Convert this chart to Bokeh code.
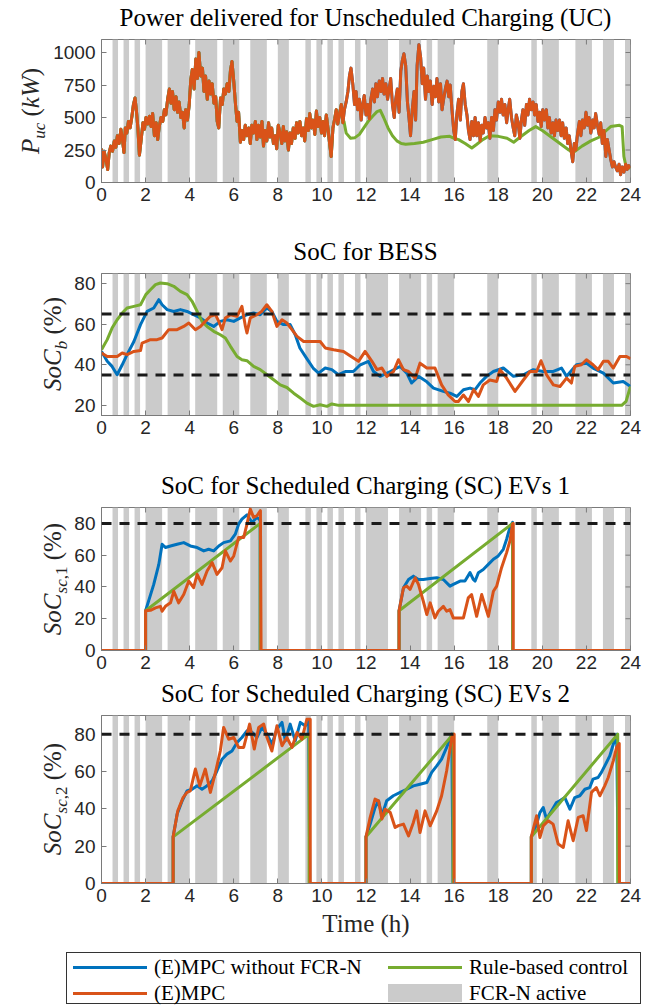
from bokeh.plotting import figure
from bokeh.models import Range1d, FixedTicker, Span, Div
from bokeh.layouts import column, row
from bokeh.embed import file_html
from bokeh.resources import INLINE

# ---------------- data ----------------
hours_ticks = list(range(0, 25, 2))

fcr_start = [0.5, 1.0, 1.5, 2.0, 3.0, 4.25, 5.5, 6.75, 8.0, 9.25, 9.75, 10.25, 10.75, 11.5,
             12.0, 13.5, 14.75, 15.25, 17.5, 19.5, 20.0, 21.5, 22.75, 23.75]
fcr_end = [0.75, 1.25, 1.75, 2.75, 4.0, 5.25, 6.25, 7.5, 8.5, 9.5, 10.0, 10.5, 11.0, 11.75,
           13.0, 14.5, 15.0, 16.0, 18.0, 19.75, 20.75, 22.25, 23.25, 24.0]

# Power delivered for unscheduled charging (kW), (E)MPC
uc_mpc = [
    (0.00, 260), (0.05, 120), (0.12, 240), (0.20, 180), (0.28, 100), (0.35, 230), (0.42, 280),
    (0.50, 240), (0.58, 320), (0.65, 270), (0.72, 360), (0.80, 300), (0.88, 410), (0.95, 330),
    (1.02, 230), (1.08, 420), (1.15, 380), (1.22, 470), (1.30, 420), (1.38, 510), (1.45, 600),
    (1.52, 650), (1.58, 560), (1.65, 420), (1.72, 210), (1.80, 330), (1.88, 460), (1.95, 410),
    (2.02, 500), (2.10, 450), (2.18, 510), (2.25, 430), (2.32, 530), (2.40, 360), (2.48, 460),
    (2.55, 330), (2.62, 430), (2.70, 500), (2.78, 470), (2.85, 560), (2.92, 520), (3.00, 640),
    (3.08, 720), (3.15, 610), (3.22, 700), (3.30, 560), (3.38, 660), (3.45, 540), (3.52, 620),
    (3.60, 500), (3.68, 540), (3.75, 420), (3.82, 560), (3.90, 480), (3.98, 600), (4.05, 790),
    (4.12, 870), (4.20, 720), (4.28, 950), (4.35, 800), (4.42, 1000), (4.50, 820), (4.58, 880),
    (4.65, 700), (4.72, 820), (4.80, 640), (4.88, 780), (4.95, 680), (5.02, 760), (5.10, 610),
    (5.18, 660), (5.25, 470), (5.32, 420), (5.40, 650), (5.48, 600), (5.55, 720), (5.62, 680),
    (5.70, 760), (5.78, 700), (5.85, 860), (5.92, 930), (6.00, 780), (6.08, 600), (6.15, 470),
    (6.22, 540), (6.30, 310), (6.38, 400), (6.45, 330), (6.52, 440), (6.60, 360), (6.68, 420),
    (6.75, 300), (6.82, 440), (6.90, 380), (6.98, 470), (7.05, 330), (7.12, 440), (7.20, 350),
    (7.28, 470), (7.35, 280), (7.42, 400), (7.50, 320), (7.58, 460), (7.65, 350), (7.72, 420),
    (7.80, 300), (7.88, 360), (7.95, 260), (8.02, 440), (8.10, 380), (8.18, 300), (8.25, 430),
    (8.32, 320), (8.40, 390), (8.48, 250), (8.55, 380), (8.62, 300), (8.70, 420), (8.78, 340),
    (8.85, 460), (8.92, 380), (9.00, 470), (9.08, 360), (9.15, 420), (9.22, 320), (9.30, 490),
    (9.38, 400), (9.45, 530), (9.52, 420), (9.60, 480), (9.68, 370), (9.75, 550), (9.82, 430),
    (9.90, 500), (9.98, 380), (10.05, 470), (10.12, 360), (10.20, 520), (10.28, 410),
    (10.35, 300), (10.42, 200), (10.50, 420), (10.58, 490), (10.65, 560), (10.72, 450),
    (10.80, 530), (10.88, 600), (10.95, 460), (11.02, 560), (11.10, 620), (11.18, 700),
    (11.25, 820), (11.32, 880), (11.40, 760), (11.48, 600), (11.55, 700), (11.62, 560),
    (11.70, 640), (11.78, 480), (11.85, 600), (11.92, 670), (12.00, 520), (12.08, 600),
    (12.15, 490), (12.22, 640), (12.30, 720), (12.38, 620), (12.45, 760), (12.52, 660),
    (12.60, 780), (12.68, 700), (12.75, 800), (12.82, 680), (12.90, 760), (12.98, 640),
    (13.05, 720), (13.12, 800), (13.20, 600), (13.28, 500), (13.35, 640), (13.42, 720),
    (13.50, 540), (13.58, 860), (13.65, 940), (13.72, 990), (13.80, 900), (13.88, 620),
    (13.95, 500), (14.02, 360), (14.10, 560), (14.18, 700), (14.25, 480), (14.32, 900),
    (14.40, 1060), (14.48, 960), (14.55, 760), (14.62, 880), (14.70, 640), (14.78, 820),
    (14.85, 700), (14.92, 780), (15.00, 600), (15.08, 740), (15.15, 660), (15.22, 800),
    (15.30, 620), (15.38, 760), (15.45, 560), (15.52, 640), (15.60, 720), (15.68, 780),
    (15.75, 660), (15.82, 750), (15.90, 560), (15.98, 400), (16.05, 330), (16.12, 520),
    (16.20, 640), (16.28, 480), (16.35, 700), (16.42, 760), (16.50, 600), (16.58, 520),
    (16.65, 400), (16.72, 330), (16.80, 470), (16.88, 360), (16.95, 500), (17.02, 360),
    (17.10, 460), (17.18, 320), (17.25, 440), (17.32, 380), (17.40, 500), (17.48, 420),
    (17.55, 460), (17.62, 340), (17.70, 500), (17.78, 400), (17.85, 560), (17.92, 480),
    (18.00, 620), (18.08, 540), (18.15, 640), (18.22, 520), (18.30, 600), (18.38, 460),
    (18.45, 560), (18.52, 640), (18.60, 500), (18.68, 420), (18.75, 360), (18.82, 520),
    (18.90, 460), (18.98, 340), (19.05, 480), (19.12, 560), (19.20, 440), (19.28, 600),
    (19.35, 520), (19.42, 640), (19.50, 560), (19.58, 620), (19.65, 520), (19.72, 600),
    (19.80, 470), (19.88, 540), (19.95, 430), (20.02, 560), (20.10, 480), (20.18, 560),
    (20.25, 420), (20.32, 500), (20.40, 380), (20.48, 460), (20.55, 360), (20.62, 480),
    (20.70, 400), (20.78, 480), (20.85, 360), (20.92, 460), (21.00, 340), (21.08, 420),
    (21.15, 300), (21.22, 360), (21.30, 250), (21.38, 160), (21.45, 300), (21.52, 250),
    (21.60, 380), (21.68, 470), (21.75, 360), (21.82, 480), (21.90, 420), (21.98, 540),
    (22.05, 440), (22.12, 500), (22.20, 380), (22.28, 480), (22.35, 420), (22.42, 530),
    (22.50, 440), (22.58, 370), (22.65, 460), (22.72, 300), (22.80, 400), (22.88, 200),
    (22.95, 330), (23.02, 260), (23.10, 180), (23.18, 120), (23.25, 160), (23.32, 120),
    (23.40, 90), (23.48, 140), (23.55, 60), (23.62, 120), (23.70, 80), (23.78, 140),
    (23.85, 100), (23.92, 130), (24.00, 110),
]
# (E)MPC without FCR-N: read as coinciding with (E)MPC in this panel
uc_nofcr = uc_mpc
# Rule-based control: coincides with (E)MPC until ~11 h, then smooth
uc_rule_tail = [
    (11.0, 470), (11.1, 380), (11.3, 340), (11.5, 345), (11.7, 370), (11.9, 420), (12.1, 470),
    (12.3, 510), (12.5, 545), (12.65, 555), (12.8, 500), (13.0, 420), (13.2, 360), (13.4, 320),
    (13.6, 300), (13.8, 295), (14.2, 300), (14.6, 310), (15.0, 330), (15.4, 350), (15.8, 355),
    (16.0, 340), (16.2, 330), (16.5, 300), (16.8, 265), (17.0, 290), (17.3, 330), (17.6, 360),
    (18.0, 355), (18.4, 340), (18.7, 310), (19.0, 350), (19.4, 400), (19.7, 430), (20.0, 400),
    (20.4, 350), (20.8, 300), (21.2, 250), (21.4, 230), (21.8, 280), (22.2, 320), (22.6, 350),
    (22.9, 400), (23.1, 430), (23.5, 440), (23.62, 430), (23.7, 200), (23.8, 120), (24.0, 110),
]
uc_rule = [pt for pt in uc_mpc if pt[0] <= 10.95] + uc_rule_tail

# SoC of BESS (%)
bess_nofcr = [
    (0.00, 46.6), (0.26, 41.7), (0.48, 39.2), (0.71, 35.1), (0.94, 40.0), (1.16, 45.0),
    (1.47, 51.5), (1.77, 59.8), (2.07, 66.3), (2.37, 68.0), (2.60, 72.1), (2.75, 69.6),
    (2.98, 67.2), (3.28, 66.3), (3.58, 67.2), (3.88, 66.3), (4.18, 64.7), (4.49, 63.1),
    (4.79, 60.6), (5.09, 58.9), (5.39, 61.4), (5.70, 62.2), (6.00, 61.4), (6.30, 63.1),
    (6.60, 64.7), (6.90, 65.5), (7.20, 64.7), (7.50, 68.0), (7.73, 66.3), (7.96, 61.4),
    (8.26, 59.8), (8.56, 59.8), (8.79, 54.8), (9.00, 48.3), (9.30, 43.3), (9.60, 38.4),
    (9.85, 35.9), (10.15, 38.4), (10.45, 37.6), (10.75, 35.1), (11.06, 36.7), (11.43, 36.7),
    (11.74, 40.0), (12.11, 41.7), (12.34, 36.7), (12.64, 34.3), (13.10, 36.7), (13.55, 39.2),
    (13.85, 35.9), (14.07, 31.0), (14.38, 34.3), (14.76, 31.6), (15.06, 28.5), (15.51, 26.9),
    (15.81, 26.0), (16.12, 24.4), (16.42, 27.7), (16.72, 28.5), (16.95, 27.7), (17.17, 31.0),
    (17.47, 34.3), (17.78, 36.7), (18.23, 38.4), (18.69, 34.3), (19.14, 35.1), (19.59, 37.6),
    (20.04, 36.7), (20.50, 36.7), (20.87, 38.4), (21.10, 34.3), (21.55, 40.0), (22.00, 40.8),
    (22.30, 38.4), (22.77, 35.9), (23.22, 31.0), (23.67, 31.8), (24.00, 29.3),
]
bess_mpc = [
    (0.00, 45.8), (0.26, 44.1), (0.71, 44.1), (0.94, 45.8), (1.16, 45.0), (1.47, 46.6),
    (1.77, 47.0), (1.84, 50.7), (2.22, 52.4), (2.52, 52.4), (2.75, 53.2), (3.05, 57.3),
    (3.43, 57.3), (3.73, 58.9), (3.96, 60.6), (4.26, 57.3), (4.49, 58.9), (4.71, 61.4),
    (4.94, 63.9), (5.17, 64.7), (5.32, 61.4), (5.47, 57.3), (5.62, 63.1), (5.85, 64.7),
    (6.15, 63.9), (6.37, 68.8), (6.53, 58.9), (6.60, 55.7), (6.75, 63.1), (7.05, 64.7),
    (7.27, 66.3), (7.50, 69.6), (7.73, 66.3), (7.96, 58.9), (8.19, 62.2), (8.41, 60.6),
    (8.64, 57.3), (8.87, 54.0), (9.17, 51.5), (9.47, 51.5), (9.92, 51.5), (10.15, 48.3),
    (10.53, 47.4), (10.98, 46.6), (11.43, 43.3), (11.66, 41.7), (11.96, 46.6), (12.27, 41.7),
    (12.50, 37.6), (12.72, 38.4), (12.95, 34.3), (13.25, 36.7), (13.47, 42.5), (13.70, 37.6),
    (13.93, 36.7), (14.23, 33.4), (14.45, 40.8), (14.76, 38.4), (15.13, 38.4), (15.43, 30.1),
    (15.73, 25.1), (16.04, 21.9), (16.19, 21.9), (16.42, 25.1), (16.65, 21.9), (16.88, 27.7),
    (17.10, 24.4), (17.32, 30.1), (17.62, 32.5), (17.93, 31.8), (18.08, 37.6), (18.38, 33.4),
    (18.76, 26.9), (19.14, 32.5), (19.44, 36.7), (19.74, 36.7), (19.94, 42.0), (20.19, 35.1),
    (20.50, 30.1), (20.80, 29.3), (21.10, 33.4), (21.32, 31.0), (21.47, 39.2), (21.77, 40.0),
    (22.00, 42.5), (22.30, 40.0), (22.53, 37.6), (22.77, 41.7), (22.99, 41.7), (23.22, 38.4),
    (23.52, 44.1), (23.82, 44.1), (24.00, 43.0),
]
bess_rule = [
    (0.00, 47.4), (0.26, 52.4), (0.48, 58.1), (0.71, 62.2), (0.94, 65.5), (1.16, 68.0),
    (1.47, 68.8), (1.77, 69.6), (2.01, 74.6), (2.22, 77.0), (2.45, 79.5), (2.67, 80.3),
    (2.98, 80.0), (3.28, 78.7), (3.58, 76.2), (3.88, 74.6), (4.11, 71.3), (4.34, 66.3),
    (4.56, 61.4), (4.79, 58.9), (5.09, 56.5), (5.39, 54.8), (5.62, 53.2), (5.85, 49.1),
    (6.15, 44.1), (6.37, 42.5), (6.60, 42.0), (6.90, 39.2), (7.20, 37.6), (7.51, 35.1),
    (7.81, 32.6), (8.11, 30.1), (8.41, 28.8), (8.72, 26.0), (9.02, 23.6), (9.32, 21.1),
    (9.62, 19.5), (9.92, 20.3), (10.23, 19.5), (10.45, 20.7), (10.76, 20.0), (11.0, 20.0),
    (23.6, 20.0), (23.8, 22.0), (24.0, 29.3),
]
bess_limits = [65, 35]

# SoC scheduled charging EVs 1 (%)
sc1_nofcr = [
    (0.0, 0), (2.0, 0), (2.0, 25), (2.37, 41.6), (2.60, 54.2), (2.75, 66.9), (2.90, 64.8),
    (3.13, 65.8), (3.43, 66.9), (3.73, 67.9), (4.03, 65.8), (4.34, 64.8), (4.64, 62.7),
    (4.86, 63.7), (5.09, 62.7), (5.32, 65.8), (5.54, 67.9), (5.85, 69.0), (6.07, 73.2),
    (6.22, 79.5), (6.37, 82.7), (6.60, 85.4), (6.83, 80.6), (7.05, 83.8), (7.20, 82.0),
    (7.20, 0), (13.5, 0), (13.5, 25), (13.70, 39.5), (13.93, 44.7), (14.15, 46.8),
    (14.38, 44.7), (14.60, 44.7), (14.91, 45.3), (15.21, 45.8), (15.51, 44.7), (15.81, 40.5),
    (15.96, 41.6), (16.27, 43.7), (16.49, 43.7), (16.72, 49.0), (16.87, 44.7), (16.95, 43.7),
    (17.10, 49.0), (17.32, 51.0), (17.55, 54.2), (17.78, 57.4), (18.00, 59.5), (18.23, 63.7),
    (18.38, 70.0), (18.53, 77.4), (18.65, 80.6), (18.65, 0), (24.0, 0),
]
sc1_mpc = [
    (0.0, 0), (2.0, 0), (2.0, 25), (2.22, 25.3), (2.45, 26.8), (2.67, 27.8), (2.75, 24.7),
    (2.90, 27.8), (3.13, 30.0), (3.28, 37.3), (3.50, 30.0), (3.73, 35.2), (3.96, 43.7),
    (4.18, 39.5), (4.34, 47.9), (4.56, 41.6), (4.79, 50.0), (5.02, 55.3), (5.24, 47.9),
    (5.47, 52.1), (5.62, 62.7), (5.85, 56.3), (6.00, 59.5), (6.22, 71.1), (6.45, 71.1),
    (6.60, 79.5), (6.75, 89.0), (6.90, 83.8), (7.05, 84.8), (7.21, 88.0), (7.24, 0),
    (13.5, 0), (13.5, 25), (13.70, 39.5), (13.85, 40.5), (14.00, 38.5), (14.23, 45.8),
    (14.38, 41.6), (14.60, 31.0), (14.76, 22.6), (14.91, 30.0), (15.13, 20.5), (15.28, 24.7),
    (15.51, 27.8), (15.66, 24.7), (15.81, 25.7), (15.96, 20.5), (16.42, 20.5), (16.64, 33.1),
    (16.79, 35.2), (17.02, 21.5), (17.25, 35.2), (17.55, 21.5), (17.78, 37.3), (17.93, 40.5),
    (18.15, 52.1), (18.38, 61.6), (18.53, 69.0), (18.65, 79.5), (18.68, 80.0), (18.68, 0),
    (24.0, 0),
]
sc1_rule = [
    (0.0, 0), (2.0, 0), (2.0, 25), (7.2, 80), (7.2, 0), (13.5, 0), (13.5, 25), (18.65, 80),
    (18.65, 0), (24.0, 0),
]

# SoC scheduled charging EVs 2 (%)
sc2_nofcr = [
    (0.0, 0), (3.25, 0), (3.25, 25), (3.43, 37.1), (3.66, 44.3), (3.88, 49.6), (4.11, 50.5),
    (4.34, 52.3), (4.56, 50.5), (4.79, 52.3), (5.02, 55.0), (5.24, 60.4), (5.47, 66.6),
    (5.69, 69.3), (5.92, 71.0), (6.15, 75.5), (6.37, 78.2), (6.60, 81.8), (6.83, 81.0),
    (7.05, 78.2), (7.28, 83.6), (7.51, 80.0), (7.73, 74.6), (7.96, 82.7), (8.19, 86.3),
    (8.34, 76.4), (8.56, 85.4), (8.79, 76.4), (9.02, 86.3), (9.24, 84.5), (9.40, 87.1),
    (9.45, 0), (12.0, 0), (12.0, 25), (12.19, 31.8), (12.41, 40.7), (12.57, 44.3),
    (12.72, 36.3), (12.94, 44.3), (13.24, 47.0), (13.55, 48.8), (13.85, 50.5), (14.15, 52.3),
    (14.45, 53.2), (14.76, 54.1), (14.98, 59.5), (15.21, 63.0), (15.43, 66.6), (15.66, 72.9),
    (15.89, 80.0), (15.95, 0), (19.5, 0), (19.5, 25), (19.74, 31.8), (19.89, 38.0),
    (20.04, 40.7), (20.19, 34.5), (20.42, 39.0), (20.64, 43.4), (20.79, 44.3), (21.02, 46.0),
    (21.25, 39.8), (21.47, 46.0), (21.70, 47.0), (21.93, 50.5), (22.15, 51.4), (22.30, 55.9),
    (22.53, 56.8), (22.68, 59.5), (22.91, 64.8), (23.06, 68.4), (23.22, 74.6), (23.37, 80.0),
    (23.45, 0), (24.0, 0),
]
sc2_mpc = [
    (0.0, 0), (3.25, 0), (3.25, 25), (3.46, 38.9), (3.70, 46.0), (3.88, 48.8), (4.03, 49.6),
    (4.26, 61.3), (4.46, 52.3), (4.71, 61.3), (4.94, 48.8), (5.17, 59.5), (5.39, 71.0),
    (5.54, 83.6), (5.77, 77.3), (6.00, 78.2), (6.22, 72.9), (6.45, 72.9), (6.72, 85.4),
    (6.93, 72.0), (7.13, 83.6), (7.36, 85.4), (7.51, 78.2), (7.73, 71.0), (7.96, 84.5),
    (8.19, 73.8), (8.41, 78.2), (8.64, 72.9), (8.87, 80.9), (9.09, 77.3), (9.32, 88.0),
    (9.47, 88.0), (9.47, 0), (12.0, 0), (12.0, 25), (12.19, 35.4), (12.41, 45.2),
    (12.57, 44.3), (12.72, 34.5), (12.87, 39.8), (13.10, 38.0), (13.32, 30.0), (13.47, 31.0),
    (13.70, 31.8), (13.93, 25.5), (14.15, 32.7), (14.30, 38.9), (14.45, 27.3), (14.68, 38.9),
    (14.91, 30.9), (15.21, 38.9), (15.43, 47.0), (15.66, 60.4), (15.89, 78.2), (16.0, 80.0),
    (16.0, 0), (19.5, 0), (19.5, 25), (19.74, 36.3), (19.89, 24.6), (20.04, 30.9),
    (20.27, 33.6), (20.49, 31.8), (20.72, 21.1), (20.95, 19.3), (21.17, 33.6), (21.40, 22.9),
    (21.63, 35.4), (21.85, 36.3), (22.00, 28.4), (22.23, 48.8), (22.45, 51.4), (22.61, 47.0),
    (22.83, 52.3), (22.99, 56.8), (23.22, 65.7), (23.37, 72.9), (23.49, 75.0), (23.5, 0),
    (24.0, 0),
]
sc2_rule = [
    (0.0, 0), (3.25, 0), (3.25, 25), (9.42, 80), (9.42, 0), (12.0, 0), (12.0, 25), (15.95, 80),
    (15.95, 0), (19.5, 0), (19.5, 25), (23.42, 80), (23.42, 0), (24.0, 0),
]
sc_target = [80]

# ---------------- style ----------------
BLUE = "#0072BD"
ORANGE = "#D95319"
GREEN = "#77AC30"
GREY = "#cbcbcb"
AXC = "#7a7a7a"
TXT = "#262626"
SERIF = "Liberation Serif"
SANS = "Liberation Sans"
LW = 3
FRAME_L = 101       # page x of the plot frames
FRAME_W = 529
RIGHT = 20
TOPB = 2            # border above each frame
TICK = 5
PAGE_W = 650
NOMARGIN = (0, 0, 0, 0)


def xs(pts):
    return [a for a, _ in pts]


def ys(pts):
    return [b for _, b in pts]


def title_div(text, height, baseline):
    # Liberation Serif 25px with 25px line box: baseline sits ~20.9px below box top
    txt = (f'<div style="position:relative;width:{PAGE_W}px;height:{height}px;">'
           f'<span style="position:absolute;left:{FRAME_L + FRAME_W / 2.0}px;'
           f'top:{baseline - 20.9}px;transform:translateX(-50%);white-space:nowrap;'
           f"font-family:'{SERIF}';font-size:25px;line-height:25px;color:black;\">"
           f'{text}</span></div>')
    return Div(text=txt, width=PAGE_W, height=height, margin=NOMARGIN)


def ylabel_div(html, width, height, cx, cy):
    txt = (f'<div style="position:relative;width:{width}px;height:{height}px;">'
           f'<span style="position:absolute;left:{cx}px;top:{cy}px;'
           f'transform:translate(-50%,-50%) rotate(-90deg);white-space:nowrap;'
           f"font-family:'{SERIF}';font-size:25px;line-height:25px;color:{TXT};\">"
           f'{html}</span></div>')
    return Div(text=txt, width=width, height=height, margin=NOMARGIN)


def make_panel(ylo, yhi, yticks, left, fh, bottom, series, hlines, xlabel=None):
    p = figure(title=None, frame_width=FRAME_W, frame_height=fh, x_range=Range1d(0, 24),
               y_range=Range1d(ylo, yhi), min_border_left=left, min_border_right=RIGHT,
               min_border_top=TOPB, min_border_bottom=bottom, toolbar_location=None,
               output_backend="svg", background_fill_color="white",
               border_fill_color="white", margin=NOMARGIN)
    p.grid.visible = False
    p.outline_line_color = AXC
    p.outline_line_width = 1
    p.quad(left=fcr_start, right=fcr_end, bottom=ylo, top=yhi, fill_color=GREY,
           line_color=None)
    for pts, col in series:
        p.line(xs(pts), ys(pts), line_color=col, line_width=LW, line_join="round")
    for h in hlines:
        p.add_layout(Span(location=h, dimension="width", line_color="#1a1a1a",
                          line_width=3, line_dash="10 8"))
    # mirrored ticks on top and right sides (box style)
    dy = TICK * (yhi - ylo) / fh
    dx = TICK * 24.0 / FRAME_W
    p.segment(x0=hours_ticks, y0=[yhi] * len(hours_ticks), x1=hours_ticks,
              y1=[yhi - dy] * len(hours_ticks), line_color=AXC, line_width=1)
    p.segment(x0=[24] * len(yticks), y0=yticks, x1=[24 - dx] * len(yticks), y1=yticks,
              line_color=AXC, line_width=1)
    p.xaxis.ticker = FixedTicker(ticks=hours_ticks)
    p.yaxis.ticker = FixedTicker(ticks=yticks)
    for ax in (p.xaxis[0], p.yaxis[0]):
        ax.axis_line_color = AXC
        ax.major_tick_line_color = AXC
        ax.major_tick_in = TICK
        ax.major_tick_out = 0
        ax.minor_tick_line_color = None
        ax.major_label_text_font = SANS
        ax.major_label_text_font_size = "19px"
        ax.major_label_text_color = TXT
    p.xaxis.major_label_standoff = 5
    p.yaxis.major_label_standoff = 6
    if xlabel:
        ax = p.below[0]
        ax.axis_label = xlabel
        ax.axis_label_text_font = SERIF
        ax.axis_label_text_font_size = "25px"
        ax.axis_label_text_font_style = "normal"
        ax.axis_label_text_color = TXT
        ax.axis_label_standoff = 5
    return p


def panel_row(p, lbl_w, fh, bottom, label_html, cx):
    height = TOPB + fh + bottom
    return row(ylabel_div(label_html, lbl_w, height, cx, TOPB + fh / 2.0), p, spacing=0,
               margin=NOMARGIN)


SUB = '<sub style="font-size:17px;line-height:0">'
items = []

# panel 1: frame 39-182
items.append(title_div("Power delivered for Unscheduled Charging (UC)", 37, 25.5))
p1 = make_panel(0, 1100, [0, 250, 500, 750, 1000], 51, 143, 54,
                [(uc_nofcr, BLUE), (uc_rule, GREEN), (uc_mpc, ORANGE)], [])
items.append(panel_row(p1, 50, 143, 54, f'<i>P</i>{SUB}<i>uc</i></sub> (<i>kW</i>)', 30))

# panel 2: frame 273-415
items.append(title_div("SoC for BESS", 35, 23.5))
p2 = make_panel(15, 85, [20, 40, 60, 80], 33, 142, 55,
                [(bess_nofcr, BLUE), (bess_rule, GREEN), (bess_mpc, ORANGE)], bess_limits)
items.append(panel_row(p2, 68, 142, 55, f'<i>SoC</i>{SUB}<i>b</i></sub> (%)', 52))

# panel 3: frame 507-650
items.append(title_div("SoC for Scheduled Charging (SC) EVs 1", 35, 23.5))
p3 = make_panel(0, 90, [0, 20, 40, 60, 80], 33, 143, 28,
                [(sc1_nofcr, BLUE), (sc1_rule, GREEN), (sc1_mpc, ORANGE)], sc_target)
items.append(panel_row(p3, 68, 143, 28, f'<i>SoC</i>{SUB}<i>sc</i>,1</sub> (%)', 52))

# panel 4: frame 715-883
items.append(title_div("SoC for Scheduled Charging (SC) EVs 2", 35, 23.5))
p4 = make_panel(0, 90, [0, 20, 40, 60, 80], 33, 168, 57,
                [(sc2_nofcr, BLUE), (sc2_rule, GREEN), (sc2_mpc, ORANGE)], sc_target,
                xlabel="Time (h)")
items.append(panel_row(p4, 68, 168, 57, f'<i>SoC</i>{SUB}<i>sc</i>,2</sub> (%)', 52))

# ---------------- legend ----------------
legend_items = [
    ("line", BLUE, "(E)MPC without FCR-N", 73, 27),
    ("line", ORANGE, "(E)MPC", 73, 53),
    ("line", GREEN, "Rule-based control", 388, 27),
    ("patch", GREY, "FCR-N active", 388, 53),
]
parts = [f'<div style="position:relative;width:{PAGE_W}px;height:65px;'
         f"font-family:'{SERIF}';font-size:21px;color:black;\">",
         '<div style="position:absolute;left:66px;top:12px;width:575px;height:52px;'
         'border:1px solid #333;box-sizing:border-box;background:white;"></div>']
for kind, col, label, x, yc in legend_items:
    if kind == "line":
        parts.append(f'<div style="position:absolute;left:{x}px;top:{yc - 1.5}px;width:74px;'
                     f'height:3px;background:{col};"></div>')
    else:
        parts.append(f'<div style="position:absolute;left:{x}px;top:{yc - 9}px;width:74px;'
                     f'height:18px;background:{col};"></div>')
    parts.append(f'<span style="position:absolute;left:{x + 81}px;top:{yc}px;'
                 f'transform:translateY(-50%);white-space:nowrap;line-height:21px;">'
                 f'{label}</span>')
parts.append('</div>')
items.append(Div(text="".join(parts), width=PAGE_W, height=65, margin=NOMARGIN))

layout = column(*items, spacing=0, margin=NOMARGIN)
open("out.html", "w").write(file_html(layout, INLINE))
